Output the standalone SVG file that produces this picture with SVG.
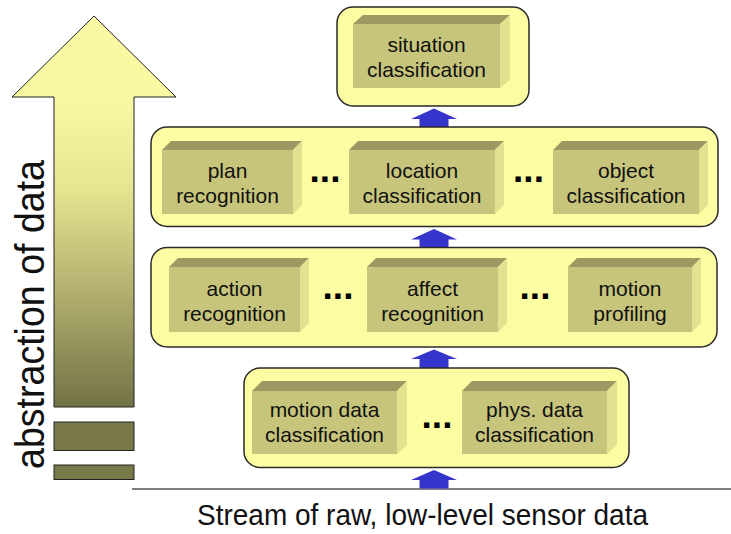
<svg xmlns="http://www.w3.org/2000/svg" width="731" height="534" viewBox="0 0 731 534">
<defs>
<linearGradient id="shaft" gradientUnits="userSpaceOnUse" x1="0" y1="97" x2="0" y2="407">
<stop offset="0" stop-color="#f9f9a3"/>
<stop offset="0.3" stop-color="#e6e490"/>
<stop offset="0.65" stop-color="#aeac6c"/>
<stop offset="1" stop-color="#727247"/>
</linearGradient>
<style>
.cont{fill:#fcfca2;stroke:#2a2a2a;stroke-width:1.5}
.top{fill:#9c9a62}
.rgt{fill:#e3e18f}
.frt{fill:#c7c57b}
.lbl{font-family:"Liberation Sans",Arial,sans-serif;font-size:21px;fill:#111;text-anchor:middle}
.dots{font-family:"Liberation Sans",Arial,sans-serif;font-size:37px;font-weight:bold;fill:#000;text-anchor:middle}
.up{fill:#3535cc}
</style>
</defs>
<rect width="731" height="534" fill="#fff"/>

<g id="abstraction-arrow">
<polygon points="94,16 176,97 134,97 134,407 54,407 54,97 12,97" fill="url(#shaft)" stroke="#222" stroke-width="1"/>
<rect x="54" y="422" width="80" height="28.5" fill="#787849" stroke="#222" stroke-width="1"/>
<rect x="54" y="465" width="80" height="14.5" fill="#787849" stroke="#222" stroke-width="1"/>
<text transform="translate(44,469) rotate(-90)" font-family="Liberation Sans,Arial,sans-serif" font-size="40" fill="#111" textLength="309" lengthAdjust="spacingAndGlyphs">abstraction of data</text>
</g>

<g id="baseline">
<line x1="132" y1="489" x2="731" y2="489" stroke="#808080" stroke-width="2"/>
<text x="197" y="525" font-family="Liberation Sans,Arial,sans-serif" font-size="30" fill="#111" textLength="451" lengthAdjust="spacingAndGlyphs">Stream of raw, low-level sensor data</text>
</g>

<g id="connectors">
<polygon class="up" points="434,108.5 457,119 448.5,119 448.5,127 419.5,127 419.5,119 411,119"/>
<polygon class="up" points="434,229 457,239.5 448.5,239.5 448.5,247.5 419.5,247.5 419.5,239.5 411,239.5"/>
<polygon class="up" points="434,349.5 457,359 448.5,359 448.5,368 419.5,368 419.5,359 411,359"/>
<polygon class="up" points="434,470 457,480 448.5,480 448.5,488.5 419.5,488.5 419.5,480 411,480"/>
</g>

<g id="level-situation">
<rect class="cont" x="337" y="7" width="192" height="99" rx="16"/>
<g id="situation-classification">
<polygon class="top" points="353,24 363,15 510,15 500,24"/>
<polygon class="rgt" points="500,24 510,15 510,80 500,88"/>
<rect class="frt" x="353" y="24" width="147" height="64"/>
<text class="lbl" x="426.5" y="51.5">situation</text>
<text class="lbl" x="426.5" y="76.5">classification</text>
</g>
</g>

<g id="level-plan">
<rect class="cont" x="151" y="127" width="567" height="99.5" rx="16"/>
<g id="plan-recognition">
<polygon class="top" points="162,150 171,141 302,141 293,150"/>
<polygon class="rgt" points="293,150 302,141 302,205 293,214"/>
<rect class="frt" x="162" y="150" width="131" height="64"/>
<text class="lbl" x="227.5" y="178">plan</text>
<text class="lbl" x="227.5" y="203">recognition</text>
</g>
<text class="dots" x="325" y="182">...</text>
<g id="location-classification">
<polygon class="top" points="349,150 358,141 504,141 495,150"/>
<polygon class="rgt" points="495,150 504,141 504,205 495,214"/>
<rect class="frt" x="349" y="150" width="146" height="64"/>
<text class="lbl" x="422" y="178">location</text>
<text class="lbl" x="422" y="203">classification</text>
</g>
<text class="dots" x="528.5" y="182">...</text>
<g id="object-classification">
<polygon class="top" points="553,150 562,141 708,141 699,150"/>
<polygon class="rgt" points="699,150 708,141 708,205 699,214"/>
<rect class="frt" x="553" y="150" width="146" height="64"/>
<text class="lbl" x="626" y="178">object</text>
<text class="lbl" x="626" y="203">classification</text>
</g>
</g>

<g id="level-action">
<rect class="cont" x="151" y="247.5" width="566" height="99.5" rx="16"/>
<g id="action-recognition">
<polygon class="top" points="169,267 178,258 309,258 300,267"/>
<polygon class="rgt" points="300,267 309,258 309,323 300,332"/>
<rect class="frt" x="169" y="267" width="131" height="65"/>
<text class="lbl" x="234.5" y="296">action</text>
<text class="lbl" x="234.5" y="321">recognition</text>
</g>
<text class="dots" x="338" y="298.5">...</text>
<g id="affect-recognition">
<polygon class="top" points="367,267 376,258 507,258 498,267"/>
<polygon class="rgt" points="498,267 507,258 507,323 498,332"/>
<rect class="frt" x="367" y="267" width="131" height="65"/>
<text class="lbl" x="432.5" y="296">affect</text>
<text class="lbl" x="432.5" y="321">recognition</text>
</g>
<text class="dots" x="535" y="298.5">...</text>
<g id="motion-profiling">
<polygon class="top" points="568,267 577,258 701,258 692,267"/>
<polygon class="rgt" points="692,267 701,258 701,323 692,332"/>
<rect class="frt" x="568" y="267" width="124" height="65"/>
<text class="lbl" x="630" y="296">motion</text>
<text class="lbl" x="630" y="321">profiling</text>
</g>
</g>

<g id="level-data">
<rect class="cont" x="244" y="368" width="385" height="99.5" rx="16"/>
<g id="motion-data-classification">
<polygon class="top" points="252,391 262,381 407,381 397,391"/>
<polygon class="rgt" points="397,391 407,381 407,445 397,454"/>
<rect class="frt" x="252" y="391" width="145" height="63"/>
<text class="lbl" x="324.5" y="417">motion data</text>
<text class="lbl" x="324.5" y="442">classification</text>
</g>
<text class="dots" x="437" y="428">...</text>
<g id="phys-data-classification">
<polygon class="top" points="462,391 472,381 617,381 607,391"/>
<polygon class="rgt" points="607,391 617,381 617,445 607,454"/>
<rect class="frt" x="462" y="391" width="145" height="63"/>
<text class="lbl" x="534.5" y="417">phys. data</text>
<text class="lbl" x="534.5" y="442">classification</text>
</g>
</g>
</svg>
